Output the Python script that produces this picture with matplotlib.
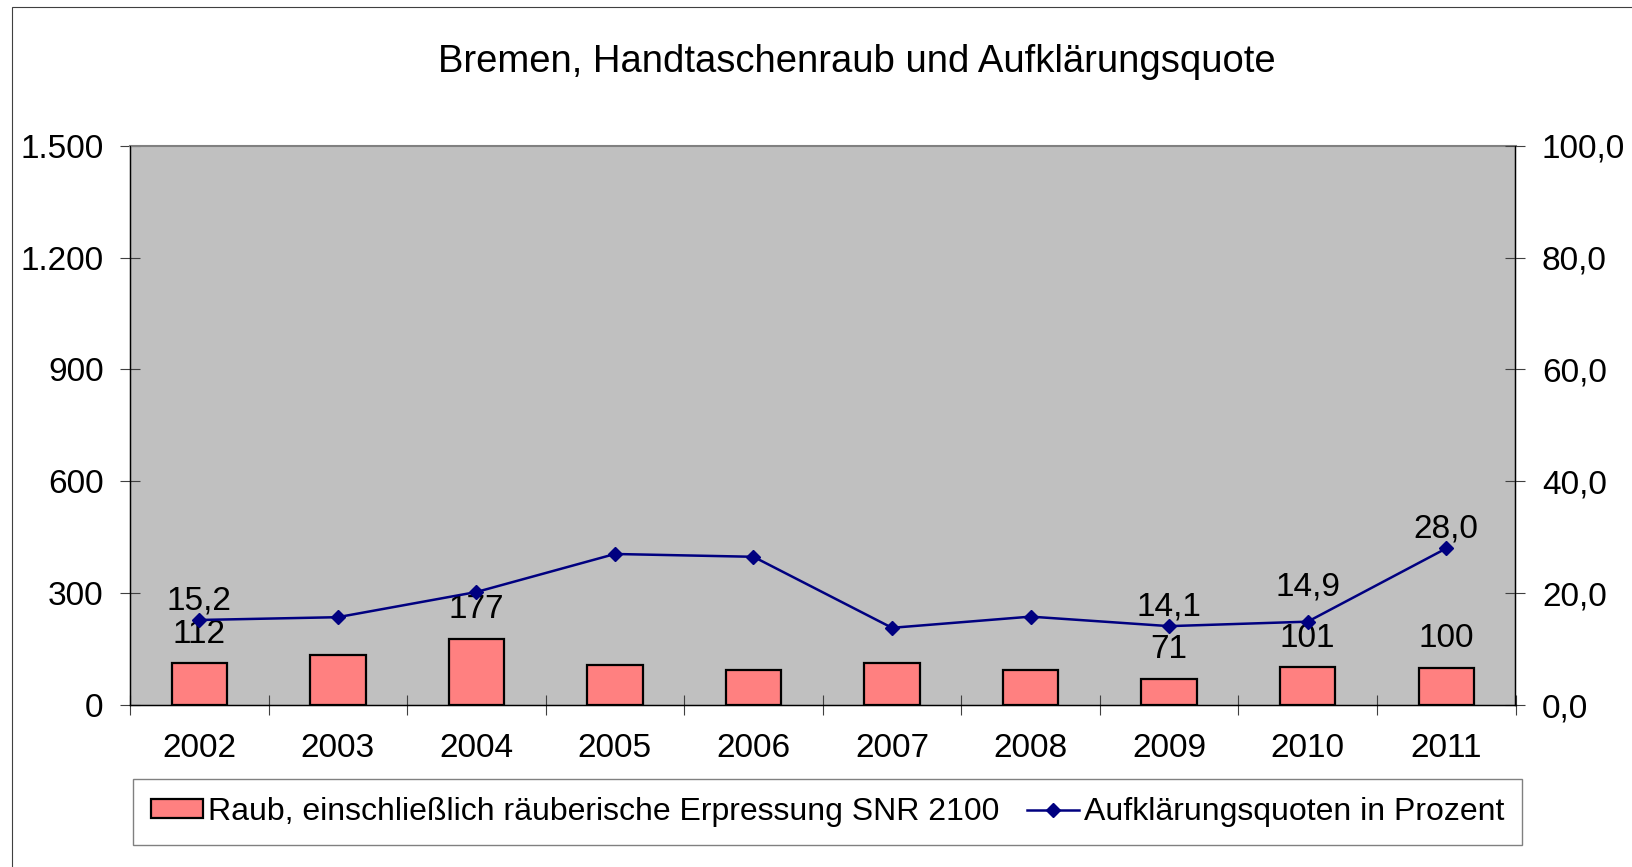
import matplotlib
matplotlib.use("Agg")
import matplotlib.pyplot as plt
from matplotlib.patches import Rectangle
from matplotlib.lines import Line2D

plt.rcParams["font.family"] = ["Liberation Sans", "DejaVu Sans"]

# data
years = ["2002", "2003", "2004", "2005", "2006", "2007", "2008", "2009", "2010", "2011"]
robberies = [112, 133, 177, 106, 94, 112, 94, 71, 101, 100]
clearance_rate = [15.2, 15.7, 20.2, 27.0, 26.5, 13.8, 15.8, 14.1, 14.9, 28.0]

# only some points carry a data label in the original
bar_label_years = ["2002", "2004", "2009", "2010", "2011"]
rate_label_years = ["2002", "2009", "2010", "2011"]

left_ticks = [0, 300, 600, 900, 1200, 1500]
right_ticks = [0, 20, 40, 60, 80, 100]

title = "Bremen, Handtaschenraub und Aufklärungsquote"
bar_name = "Raub, einschließlich räuberische Erpressung SNR 2100"
line_name = "Aufklärungsquoten in Prozent"

W, H = 1632, 867
FS = 24
LEGEND_FS = 23
TITLE_FS = 27.5
BAR_COLOR = "#FF8080"
LINE_COLOR = "#000080"
PLOT_BG = "#C0C0C0"


def de_int(v):
    return f"{v:,}".replace(",", ".")


def de_float(v):
    return f"{v:.1f}".replace(".", ",")


fig = plt.figure(figsize=(W / 100, H / 100), dpi=100)
fig.patch.set_facecolor("white")

# chart area border (cut off on right and bottom in the original)
fig.patches.append(Rectangle((11.5 / W, -0.2), 1.2, 1.2 - 7 / H, transform=fig.transFigure,
                             fill=False, edgecolor="#404040", linewidth=0.8))

left, right, top, bottom = 130 / W, 1515.5 / W, 145.7 / H, 705 / H
ax = fig.add_axes([left, 1 - bottom, right - left, bottom - top])
ax.set_facecolor(PLOT_BG)

x = list(range(len(years)))
ax.bar(x, robberies, width=0.4, color=BAR_COLOR, edgecolor="black", linewidth=1.6, zorder=2)
ax.set_xlim(-0.5, len(years) - 0.5)
ax.set_ylim(left_ticks[0], left_ticks[-1])
ax.set_yticks(left_ticks)
ax.set_yticklabels([de_int(v) for v in left_ticks])
ax.set_xticks(x)
ax.set_xticklabels(years)
ax.set_xticks([i - 0.5 for i in range(len(years) + 1)], minor=True)
ax.tick_params(axis="x", which="major", length=0, pad=20, labelsize=FS)
ax.tick_params(axis="x", which="minor", direction="inout", length=14, width=0.8, color="#404040")
ax.tick_params(axis="y", direction="inout", length=14, width=0.8, pad=12, labelsize=FS,
               color="#404040")

for name in ["left", "bottom", "right"]:
    ax.spines[name].set_color("black")
    ax.spines[name].set_linewidth(1.0)
ax.spines["top"].set_color("#808080")
ax.spines["top"].set_linewidth(1.5)

for yr in bar_label_years:
    i = years.index(yr)
    ax.annotate(de_int(robberies[i]), (i, robberies[i]), xytext=(0, 21),
                textcoords="offset points", ha="center", va="center", fontsize=FS, zorder=5)

ax2 = ax.twinx()
ax2.plot(x, clearance_rate, color=LINE_COLOR, linewidth=1.8, marker="D", markersize=7,
         zorder=4)
ax2.set_ylim(right_ticks[0], right_ticks[-1])
ax2.set_yticks(right_ticks)
ax2.set_yticklabels([de_float(v) for v in right_ticks])
ax2.tick_params(axis="y", direction="inout", length=14, width=0.8, pad=12, labelsize=FS,
                color="#404040")
ax2.spines["right"].set_color("black")
ax2.spines["top"].set_visible(False)

for yr in rate_label_years:
    i = years.index(yr)
    off = 25 if yr == "2010" else 14
    ax2.annotate(de_float(clearance_rate[i]), (i, clearance_rate[i]), xytext=(0, off),
                 textcoords="offset points", ha="center", va="center", fontsize=FS, zorder=5)

fig.text(857 / W, 1 - 62 / H, title, ha="center", va="center", fontsize=TITLE_FS)

handles = [
    Rectangle((0, 0), 1, 1, facecolor=BAR_COLOR, edgecolor="black", linewidth=1.6),
    Line2D([0], [0], color=LINE_COLOR, linewidth=1.8, marker="D", markersize=7),
]
leg = fig.legend(handles, [bar_name, line_name], loc="center", ncol=2,
                 bbox_to_anchor=(827.5 / W, 1 - 812 / H), fontsize=LEGEND_FS, frameon=True,
                 fancybox=False, edgecolor="#606060", handlelength=1.65, handleheight=0.55,
                 handletextpad=0.15, columnspacing=0.85, borderpad=0.55)
leg.get_frame().set_linewidth(1.0)

fig.savefig("out.png", dpi=100)
